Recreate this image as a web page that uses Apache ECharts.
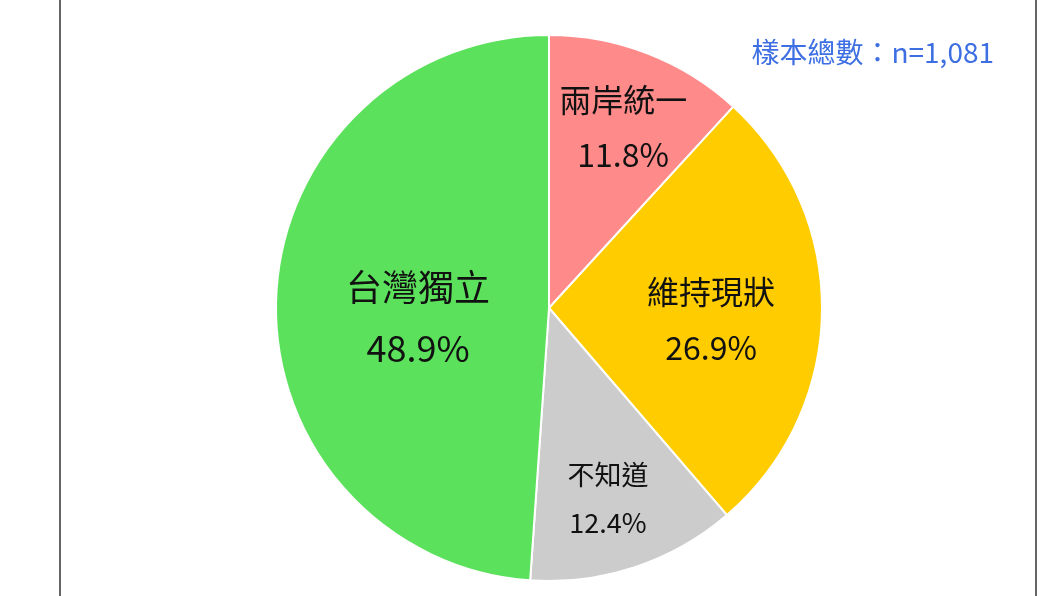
<!DOCTYPE html>
<html>
<head>
<meta charset="utf-8">
<script src="https://cdn.jsdelivr.net/npm/echarts@6/dist/echarts.min.js"></script>
<style>
html,body{margin:0;padding:0;background:#fff;}
#chart{width:1060px;height:596px;}
</style>
</head>
<body>
<div id="chart"></div>
<script>
// Data
var categories = ['兩岸統一', '維持現狀', '不知道', '台灣獨立'];
var values = [11.8, 26.9, 12.4, 48.9];
var sampleNote = '樣本總數：n=1,081';

// Styles (kept apart from data)
var sliceColors = ['#FF8A8A', '#FFCC00', '#CCCCCC', '#5CE15C'];
var labelFont = [32, 32, 27, 36];
var labelLineHeight = [55, 56, 48, 61];
// label placement: distance from centre (px) and angular nudge (deg)
var labelDist = [192.4, 159.5, 196.7, 128.4];
var labelNudge = [1.06, 3.42, 1.21, -6.45];

var FONT = '"Noto Sans CJK TC", "Noto Sans", sans-serif';
var CENTER = [549, 308];
var RADIUS = 273;

function buildData(showIdx) {
  return categories.map(function (name, i) {
    return {
      name: name,
      value: values[i],
      itemStyle: { color: showIdx < 0 ? sliceColors[i] : 'rgba(0,0,0,0)' },
      label: {
        show: showIdx === i,
        fontSize: labelFont[i],
        lineHeight: labelLineHeight[i]
      }
    };
  });
}

var series = [{
  type: 'pie',
  center: CENTER,
  radius: [0, RADIUS],
  startAngle: 90,
  clockwise: true,
  itemStyle: { borderColor: '#ffffff', borderWidth: 2 },
  label: { show: false },
  labelLine: { show: false },
  emphasis: { disabled: true },
  silent: true,
  data: buildData(-1)
}];

categories.forEach(function (name, i) {
  series.push({
    type: 'pie',
    center: CENTER,
    radius: [0, labelDist[i] * 2],
    startAngle: 90 - labelNudge[i],
    clockwise: true,
    silent: true,
    avoidLabelOverlap: false,
    itemStyle: { borderWidth: 0 },
    label: {
      position: 'inside',
      formatter: '{b}\n{c}%',
      color: '#111111',
      fontFamily: FONT,
      align: 'center'
    },
    labelLine: { show: false },
    emphasis: { disabled: true },
    z: 5,
    data: buildData(i)
  });
});

var chart = echarts.init(document.getElementById('chart'), null, { renderer: 'canvas' });
chart.setOption({
  animation: false,
  backgroundColor: '#ffffff',
  title: {
    text: sampleNote,
    right: 61,
    top: 33,
    textStyle: { color: '#3D6FE3', fontSize: 28, fontWeight: 'normal', fontFamily: FONT }
  },
  graphic: [
    { type: 'rect', shape: { x: 59, y: 0, width: 2, height: 596 }, style: { fill: '#666666' } },
    { type: 'rect', shape: { x: 1035, y: 0, width: 2, height: 596 }, style: { fill: '#666666' } }
  ],
  series: series
});
</script>
</body>
</html>
